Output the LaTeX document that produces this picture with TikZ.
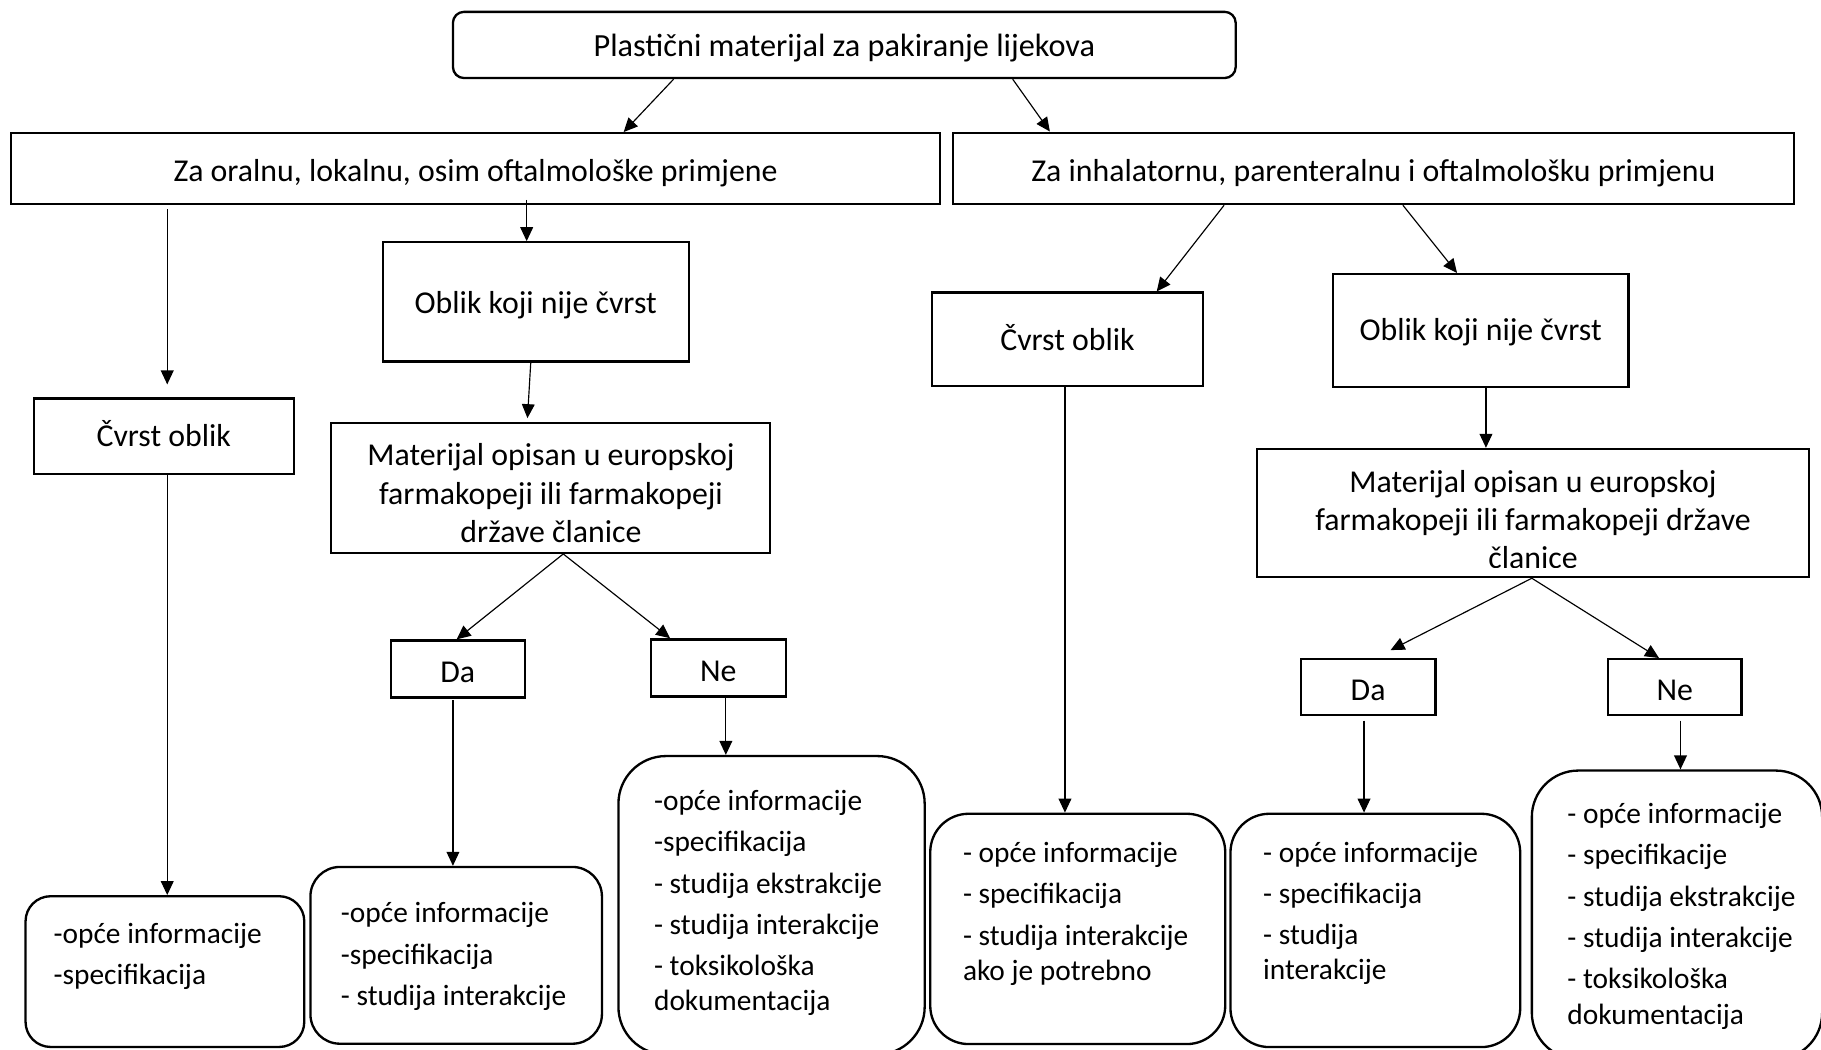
\documentclass[tikz,border=0pt]{standalone}
\usepackage{fontspec}
\setmainfont{Carlito}
\usetikzlibrary{arrows.meta}
\newcommand{\fzbox}{\fontsize{27.4}{33}\selectfont}
\newcommand{\fztop}{\fontsize{27.8}{33}\selectfont}
\newcommand{\fzlist}{\fontsize{25.3}{30.5}\selectfont}
\newcommand{\fzmat}{\fontsize{27.4}{33}\selectfont}
\begin{document}
\begin{tikzpicture}[x=1pt,y=-1pt,
  box/.style={draw, line width=2pt, inner sep=0pt, font=\fzbox, align=center},
  rbox/.style={box, rounded corners=#1},
  txtbase/.style={text height=#1, text depth=0pt},
  conn/.style={line width=1pt, -{Triangle[length=12pt,width=11pt]}},
  listtext/.style={anchor=north west, inner sep=0pt, align=left, font=\fzlist},
  mattext/.style={anchor=north, inner sep=0pt, align=center, font=\fzmat},
]
\useasboundingbox (0,0) rectangle (1568,904);
\fill[white] (0,0) rectangle (1568,904);
\clip (0,0) rectangle (1568,904);

% boxes
\node[rbox=9.5pt, minimum width=674pt, minimum height=57pt, txtbase=20.2pt, font=\fztop] (top) at (727,38.7) {Plastični materijal za pakiranje lijekova};
\node[box, minimum width=800pt, minimum height=61pt, txtbase=22.4pt] (L1) at (409.5,145.2) {Za oralnu, lokalnu, osim oftalmološke primjene};
\node[box, minimum width=724pt, minimum height=61.5pt, txtbase=22.8pt] (R1) at (1182.6,145) {Za inhalatornu, parenteralnu i oftalmološku primjenu};
\node[box, minimum width=263.5pt, minimum height=102.7pt, txtbase=19.6pt] (LO) at (461.3,260) {Oblik koji nije čvrst};
\node[box, minimum width=224pt, minimum height=65pt, txtbase=18.6pt] (LC) at (141,375.5) {Čvrst oblik};
\node[box, minimum width=378.5pt, minimum height=112pt] (LM) at (474,420) {};
\node[box, minimum width=115.5pt, minimum height=49pt, txtbase=22.6pt] (LDa) at (394.2,576) {Da};
\node[box, minimum width=116pt, minimum height=49.3pt, txtbase=23pt] (LNe) at (618.5,575.2) {Ne};
\node[rbox=21.6pt, minimum width=240pt, minimum height=129.8pt] (BA) at (142,836.6) {};
\node[rbox=25.4pt, minimum width=251pt, minimum height=152.2pt] (BB) at (392.8,822.6) {};
\node[rbox=41pt, minimum width=263.7pt, minimum height=257pt] (BC) at (664.35,779.5) {};
\node[box, minimum width=233pt, minimum height=80.4pt, txtbase=20pt] (RC) at (919.2,292.2) {Čvrst oblik};
\node[box, minimum width=254.6pt, minimum height=97pt, txtbase=16.6pt] (RO) at (1274.9,284.5) {Oblik koji nije čvrst};
\node[box, minimum width=475.7pt, minimum height=110.3pt] (RM) at (1320,441.75) {};
\node[box, minimum width=116pt, minimum height=48.2pt, txtbase=23.4pt] (RDa) at (1178,591.7) {Da};
\node[box, minimum width=115pt, minimum height=48.2pt, txtbase=23.4pt] (RNe) at (1442.1,591.7) {Ne};
\node[rbox=33pt, minimum width=254pt, minimum height=198.3pt] (BD) at (928,799.85) {};
\node[rbox=33.5pt, minimum width=249.5pt, minimum height=200.9pt] (BE) at (1184.25,801.15) {};
\node[rbox=40pt, minimum width=250pt, minimum height=248.5pt] (BF) at (1444,787.75) {};

% clipped multi-line texts
\begin{scope}
\clip (LM.north west) rectangle ([yshift=9.5pt]LM.south east);
\node[mattext] (LMt) at (474.4,377.8) {\strut Materijal opisan u europskoj\\farmakopeji ili farmakopeji\\države članice};
\end{scope}
\begin{scope}
\clip (RM.north west) rectangle ([yshift=9.4pt]RM.south east);
\node[mattext] (RMt) at (1320,400.4) {\strut Materijal opisan u europskoj\\farmakopeji ili farmakopeji države\\članice};
\end{scope}

% list texts
\node[listtext] (BAt) at (46,790.9) {\strut -opće informacije\\[5pt]-specifikacija};
\node[listtext] (BBt) at (293.4,773.2) {\strut -opće informacije\\[5pt]-specifikacija\\[5pt]- studija interakcije};
\node[listtext] (BCt) at (563,676.4) {\strut -opće informacije\\[5pt]-specifikacija\\[5pt]- studija ekstrakcije\\[5pt]- studija interakcije\\[5pt]- toksikološka\\dokumentacija};
\node[listtext] (BDt) at (829,721.2) {\strut - opće informacije\\[5pt]- specifikacija\\[5pt]- studija interakcije\\ako je potrebno};
\node[listtext] (BEt) at (1087.5,720.7) {\strut - opće informacije\\[5pt]- specifikacija\\[5pt]- studija\\interakcije};
\node[listtext] (BFt) at (1349.5,687.7) {\strut - opće informacije\\[5pt]- specifikacije\\[5pt]- studija ekstrakcije\\[5pt]- studija interakcije\\[5pt]- toksikološka\\dokumentacija};

% connectors
\draw[conn] ([xshift=-147pt]top.south) -- ([xshift=127.5pt]L1.north);
\draw[conn] ([xshift=145pt]top.south) -- ([xshift=-278.6pt]R1.north);
\draw[conn] ([xshift=44pt,yshift=4.7pt]L1.south) -- ([xshift=-7.8pt]LO.north);
\draw[conn, shorten >=11pt] ([xshift=-265.5pt,yshift=-3.3pt]L1.south) -- ([xshift=3pt]LC.north);
\draw[conn, shorten >=3pt] ([xshift=-4.3pt]LO.south) -- ([xshift=-20pt]LM.north);
\draw[conn] ([xshift=11pt]LM.south) -- ([xshift=-1pt]LDa.north);
\draw[conn] ([xshift=11pt]LM.south) -- ([xshift=-41.5pt]LNe.north);
\draw[conn] ([xshift=-4.2pt,yshift=-1.5pt]LDa.south) -- ([xshift=-2.8pt]BB.north);
\draw[conn] ([xshift=6.5pt]LNe.south) -- ([xshift=-39.35pt]BC.north);
\draw[conn] ([xshift=3pt]LC.south) -- ([xshift=2pt]BA.north);
\draw[conn] ([xshift=-128.6pt]R1.south) -- ([xshift=76.8pt]RC.north);
\draw[conn] ([xshift=25.4pt]R1.south) -- ([xshift=-20.3pt]RO.north);
\draw[conn] ([xshift=-2.2pt]RC.south) -- ([xshift=-11pt]BD.north);
\draw[conn] ([xshift=4.6pt]RO.south) -- ([xshift=-40.5pt]RM.north);
\draw[conn, shorten >=15pt] ([xshift=-1pt]RM.south) -- ([xshift=6pt]RDa.north);
\draw[conn] ([xshift=-1pt]RM.south) -- ([xshift=-13.6pt]RNe.north);
\draw[conn] ([xshift=-3.5pt,yshift=-3.7pt]RDa.south) -- ([xshift=-9.75pt]BE.north);
\draw[conn] ([xshift=4.9pt,yshift=-3.7pt]RNe.south) -- ([xshift=3pt]BF.north);
\end{tikzpicture}
\end{document}
